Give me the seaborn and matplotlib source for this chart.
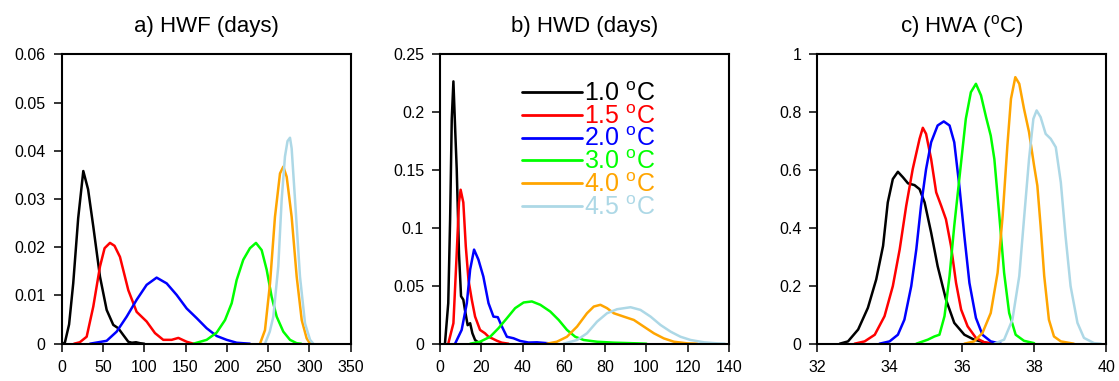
import pandas as pd
import matplotlib
matplotlib.use("Agg")
import matplotlib.pyplot as plt
from matplotlib.ticker import FuncFormatter, MultipleLocator
import seaborn as sns

# warming levels and colours
niveluri = ['1.0', '1.5', '2.0', '3.0', '4.0', '4.5']
culori = ['black', 'red', 'blue', '#00ff00', 'orange', 'lightblue']

# a) HWF (days)
hwf_10_x = [2, 4, 9, 14, 20, 26.2, 32, 38.3, 46.4, 54.5, 62.5, 68.6, 74.6, 80.7, 85, 90, 95, 100]
hwf_10_y = [0, 0.0003, 0.004, 0.0125, 0.026, 0.0358, 0.032, 0.0243, 0.0139, 0.007, 0.0039, 0.0032, 0.0018, 0.0004, 0.0002, 0.0003, 0.0001, 0]
hwf_15_x = [15, 22, 30.3, 38.3, 46.4, 52, 58.5, 64, 70.6, 80.7, 90.8, 102.9, 113, 123, 133.2, 141.3, 151.4, 159.5]
hwf_15_y = [0, 0.0003, 0.00145, 0.0077, 0.016, 0.0198, 0.0209, 0.0203, 0.018, 0.0111, 0.0066, 0.0046, 0.0022, 0.0008, 0.0008, 0.0012, 0.0004, 0]
hwf_20_x = [34.3, 54.5, 66.6, 78.7, 90.8, 102.9, 115, 127.2, 139.3, 151.4, 163.5, 175.6, 187.7, 199.8, 211.9, 228]
hwf_20_y = [0, 0.0006, 0.0025, 0.0056, 0.0091, 0.0122, 0.0137, 0.0125, 0.0101, 0.0073, 0.0053, 0.0032, 0.0016, 0.0008, 0.0002, 0]
hwf_30_x = [159.5, 175.6, 187.7, 197.8, 205.9, 211.9, 219.9, 228, 235.3, 242.2, 248.3, 254.3, 260.4, 268.4, 276.5, 284.6, 290]
hwf_30_y = [0, 0.0008, 0.0023, 0.0049, 0.0084, 0.0132, 0.0174, 0.0198, 0.0209, 0.0194, 0.0153, 0.0097, 0.0056, 0.0025, 0.0008, 0.0001, 0]
hwf_40_x = [240.2, 246.2, 252.3, 258.3, 264.4, 268.4, 272.5, 278.5, 284.6, 290.7, 296.7, 300.8]
hwf_40_y = [0, 0.0028, 0.0125, 0.0263, 0.0353, 0.0367, 0.0346, 0.0263, 0.0139, 0.0049, 0.0011, 0]
hwf_45_x = [246.2, 252, 256.3, 262.3, 266.4, 270.4, 273.5, 276.5, 278.5, 282.6, 288.6, 294.7, 300.8, 304.8]
hwf_45_y = [0, 0.0025, 0.0056, 0.016, 0.0298, 0.0388, 0.042, 0.0427, 0.0405, 0.0298, 0.0139, 0.0042, 0.0008, 0]

# b) HWD (days)
hwd_10_x = [2.4, 4.0, 4.9, 5.7, 6.5, 7.4, 8.1, 9.2, 10.2, 11.3, 12.1, 13.4, 14.6, 15.7, 17, 18.6, 20.2]
hwd_10_y = [0, 0.035, 0.107, 0.194, 0.2266, 0.183, 0.151, 0.078, 0.041, 0.038, 0.029, 0.016, 0.0177, 0.009, 0.0032, 0.001, 0]
hwd_15_x = [4.0, 6.5, 8.1, 9.2, 10.0, 11.3, 12.5, 13.8, 15.4, 17, 19.4, 21.8, 23.5, 25.1, 27.5, 29.9, 33.2]
hwd_15_y = [0, 0.0177, 0.078, 0.122, 0.133, 0.122, 0.084, 0.055, 0.038, 0.0234, 0.0119, 0.009, 0.006, 0.0047, 0.0026, 0.0009, 0]
hwd_20_x = [7.3, 10.5, 13, 14.6, 16.5, 18.6, 21.0, 23.5, 25.9, 28.0, 30.0, 32.4, 35.6, 38.8, 42.9, 47, 55]
hwd_20_y = [0, 0.0119, 0.035, 0.064, 0.0813, 0.0727, 0.058, 0.035, 0.0234, 0.0229, 0.0148, 0.006, 0.0047, 0.0024, 0.001, 0.0012, 0]
hwd_30_x = [14.6, 19.4, 24.3, 28.3, 32.4, 36.4, 40.5, 44.5, 48.6, 53.4, 57.5, 61.5, 65.5, 69.6, 76.1, 84.2, 95.5, 100]
hwd_30_y = [0, 0.0017, 0.006, 0.0133, 0.022, 0.0307, 0.0356, 0.0365, 0.0336, 0.0278, 0.0205, 0.0119, 0.006, 0.0032, 0.0017, 0.0009, 0.0003, 0]
hwd_40_x = [51.8, 56.6, 61.5, 66.4, 71.2, 74.5, 77.7, 80.9, 84.2, 89.0, 93.9, 98.7, 103.6, 108.4, 113.3, 119.8, 124.6]
hwd_40_y = [0, 0.0017, 0.006, 0.0148, 0.0263, 0.0321, 0.0336, 0.0307, 0.0263, 0.0234, 0.0205, 0.0148, 0.009, 0.0046, 0.0017, 0.0003, 0]
hwd_45_x = [59.9, 66.4, 71.2, 76.1, 80.9, 85.8, 92.3, 97.1, 102, 106.8, 111.7, 116.5, 121.4, 127.9, 134.3, 138]
hwd_45_y = [0, 0.0032, 0.009, 0.0191, 0.0263, 0.0298, 0.0315, 0.0292, 0.0234, 0.0162, 0.0104, 0.006, 0.0032, 0.0012, 0.0003, 0]

# c) HWA (oC)
hwa_10_x = [32.62, 32.85, 33.13, 33.40, 33.63, 33.82, 33.95, 34.09, 34.23, 34.37, 34.51, 34.69, 34.83, 34.97, 35.15, 35.33, 35.56, 35.79, 36.07, 36.34, 36.71, 36.9]
hwa_10_y = [0, 0.008, 0.049, 0.124, 0.222, 0.338, 0.488, 0.569, 0.594, 0.575, 0.554, 0.548, 0.534, 0.488, 0.384, 0.268, 0.153, 0.072, 0.031, 0.014, 0.002, 0]
hwa_15_x = [33.03, 33.31, 33.59, 33.86, 34.09, 34.28, 34.46, 34.64, 34.83, 34.92, 35.01, 35.15, 35.29, 35.43, 35.56, 35.70, 35.84, 35.98, 36.16, 36.39, 36.62, 36.9]
hwa_15_y = [0, 0.008, 0.031, 0.095, 0.199, 0.326, 0.476, 0.603, 0.708, 0.746, 0.725, 0.638, 0.523, 0.476, 0.430, 0.338, 0.210, 0.118, 0.060, 0.020, 0.005, 0]
hwa_20_x = [33.72, 34.0, 34.23, 34.41, 34.60, 34.74, 34.87, 35.01, 35.15, 35.33, 35.50, 35.66, 35.79, 35.93, 36.07, 36.21, 36.39, 36.57, 36.80, 37.08]
hwa_20_y = [0, 0.008, 0.031, 0.083, 0.199, 0.326, 0.476, 0.603, 0.696, 0.754, 0.768, 0.754, 0.696, 0.546, 0.372, 0.210, 0.089, 0.031, 0.008, 0]
hwa_30_x = [34.74, 35.06, 35.24, 35.38, 35.52, 35.66, 35.79, 35.98, 36.11, 36.25, 36.39, 36.53, 36.67, 36.80, 36.90, 37.03, 37.17, 37.31, 37.49, 37.72, 38.0]
hwa_30_y = [0, 0.014, 0.025, 0.031, 0.095, 0.234, 0.407, 0.627, 0.777, 0.869, 0.898, 0.858, 0.783, 0.719, 0.638, 0.453, 0.245, 0.106, 0.031, 0.010, 0.002]
hwa_40_x = [36.07, 36.34, 36.57, 36.80, 36.99, 37.13, 37.26, 37.36, 37.48, 37.59, 37.72, 37.86, 38.0, 38.09, 38.18, 38.28, 38.41, 38.55, 38.74, 39.1]
hwa_40_y = [0, 0.008, 0.037, 0.106, 0.245, 0.442, 0.684, 0.846, 0.921, 0.898, 0.812, 0.731, 0.615, 0.546, 0.407, 0.234, 0.083, 0.025, 0.008, 0]
hwa_45_x = [36.90, 37.17, 37.40, 37.59, 37.72, 37.86, 37.98, 38.07, 38.18, 38.32, 38.46, 38.60, 38.74, 38.87, 39.01, 39.20, 39.38, 39.66, 39.85]
hwa_45_y = [0, 0.014, 0.083, 0.234, 0.430, 0.638, 0.777, 0.806, 0.783, 0.725, 0.708, 0.679, 0.557, 0.372, 0.199, 0.072, 0.020, 0.002, 0]


def tabel(curbe):
    bucati = []
    for nivel, (xs, ys) in zip(niveluri, curbe):
        bucati.append(pd.DataFrame({'x': xs, 'y': ys, 'nivel': nivel}))
    return pd.concat(bucati, ignore_index=True)


panouri = [
    dict(titlu='a) HWF (days)',
         df=tabel([(hwf_10_x, hwf_10_y), (hwf_15_x, hwf_15_y), (hwf_20_x, hwf_20_y),
                   (hwf_30_x, hwf_30_y), (hwf_40_x, hwf_40_y), (hwf_45_x, hwf_45_y)]),
         xlim=(0, 350), xstep=50, ylim=(0, 0.06), ystep=0.01),
    dict(titlu='b) HWD (days)',
         df=tabel([(hwd_10_x, hwd_10_y), (hwd_15_x, hwd_15_y), (hwd_20_x, hwd_20_y),
                   (hwd_30_x, hwd_30_y), (hwd_40_x, hwd_40_y), (hwd_45_x, hwd_45_y)]),
         xlim=(0, 140), xstep=20, ylim=(0, 0.25), ystep=0.05),
    dict(titlu=r'c) HWA ($^{\mathrm{o}}$C)',
         df=tabel([(hwa_10_x, hwa_10_y), (hwa_15_x, hwa_15_y), (hwa_20_x, hwa_20_y),
                   (hwa_30_x, hwa_30_y), (hwa_40_x, hwa_40_y), (hwa_45_x, hwa_45_y)]),
         xlim=(32, 40), xstep=2, ylim=(0, 1), ystep=0.2),
]

sns.set_theme(style='ticks')
plt.rcParams['font.family'] = ['Liberation Sans', 'DejaVu Sans']
plt.rcParams['mathtext.fontset'] = 'custom'
plt.rcParams['mathtext.rm'] = 'Liberation Sans'
plt.rcParams['mathtext.it'] = 'Liberation Sans:italic'
plt.rcParams['text.color'] = 'black'

fig = plt.figure(figsize=(11.19, 3.81), dpi=100)
stangi = [0.0551, 0.3932, 0.7304]

for i, p in enumerate(panouri):
    ax = fig.add_axes([stangi[i], 0.0979, 0.2583, 0.7596])
    sns.lineplot(data=p['df'], x='x', y='y', hue='nivel', palette=culori,
                 estimator=None, linewidth=1.8, ax=ax, legend=(i == 1))
    ax.set_xlim(*p['xlim'])
    ax.set_ylim(*p['ylim'])
    ax.xaxis.set_major_locator(MultipleLocator(p['xstep']))
    ax.yaxis.set_major_locator(MultipleLocator(p['ystep']))
    ax.yaxis.set_major_formatter(FuncFormatter(lambda v, pos: f'{v:g}'))
    ax.xaxis.set_major_formatter(FuncFormatter(lambda v, pos: f'{v:g}'))
    ax.set_xlabel('')
    ax.set_ylabel('')
    ax.set_title(p['titlu'], fontsize=16, pad=16, color='black')
    for s in ax.spines.values():
        s.set_linewidth(1.5)
        s.set_color('black')
    ax.tick_params(direction='out', length=5.5, width=1.1, pad=6,
                   labelsize=11.5, colors='black', top=False, right=False)

    if i == 1:
        handles, _ = ax.get_legend_handles_labels()
        etichete = [n + r' $^{\mathrm{o}}$C' for n in niveluri]
        leg = ax.legend(handles, etichete, loc='upper left', bbox_to_anchor=(0.283, 0.905),
                        frameon=False, fontsize=18, handlelength=2.4, handletextpad=0.1,
                        labelspacing=-0.05, borderpad=0, borderaxespad=0, labelcolor='linecolor')
        for ln in leg.get_lines():
            ln.set_linewidth(2)

fig.savefig('out.png', dpi=100)
